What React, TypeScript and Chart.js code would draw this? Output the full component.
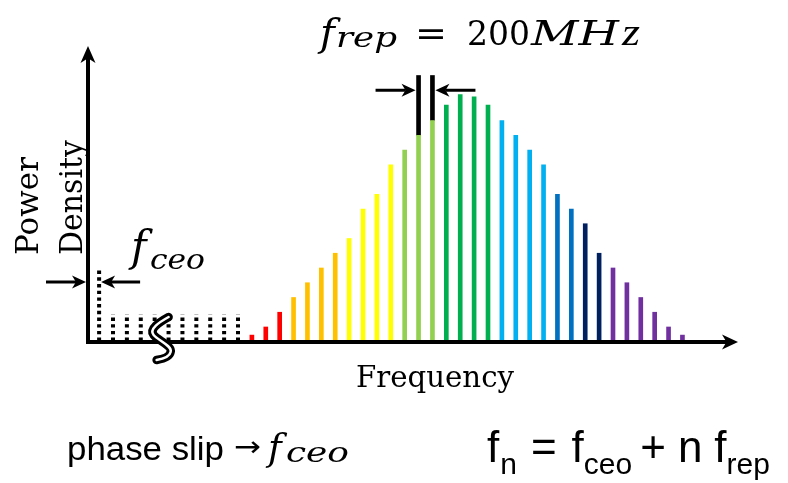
import React, { useEffect, useRef } from "react";
import { Chart, registerables } from "chart.js";

Chart.register(...registerables);

// Comb teeth shown in colour: mode number, power density and colour.
const MODES = [11, 12, 13, 14, 15, 16, 17, 18, 19, 20, 21, 22, 23, 24, 25, 26, 27, 28, 29, 30, 31, 32, 33, 34, 35, 36, 37, 38, 39, 40, 41, 42];
const POWER = [0.4, 0.95, 1.95, 2.95, 3.95, 4.95, 5.95, 6.95, 8.95, 9.95, 11.95, 12.95, 13.95, 14.95, 16.0, 16.7, 16.55, 16.0, 14.95, 13.95, 12.95, 11.95, 9.95, 8.95, 7.95, 5.95, 4.95, 3.95, 2.95, 1.95, 0.95, 0.4];
const COLORS = [
  "#FF0000", "#FF0000", "#FF0000",
  "#FFC000", "#FFC000", "#FFC000", "#FFC000",
  "#FFFF00", "#FFFF00", "#FFFF00", "#FFFF00",
  "#92D050", "#92D050", "#92D050",
  "#00B050", "#00B050", "#00B050", "#00B050",
  "#00B0F0", "#00B0F0", "#00B0F0", "#00B0F0",
  "#0070C0", "#0070C0",
  "#002060", "#002060",
  "#7030A0", "#7030A0", "#7030A0", "#7030A0", "#7030A0", "#7030A0",
];

// Low-frequency teeth behind the axis break, drawn dotted.
const HIDDEN_MODES = [0, 1, 2, 3, 4, 5, 6, 7, 8, 9, 10];
const HIDDEN_POWER = [4.95, 1.83, 1.83, 1.83, 1.83, 1.83, 1.83, 1.83, 1.83, 1.83, 1.83];

// Two neighbouring teeth extended upward to mark the repetition rate.
const REP_MODES = [23, 24];
const REP_TOP = 18;

const X_MIN = -0.8;
const X_MAX = 46;
const Y_MAX = 20;

const SERIF = '"DejaVu Serif", serif';
const TIMES = '"Liberation Serif", serif';
const SANS = '"Liberation Sans", Arial, sans-serif';

function text(ctx: CanvasRenderingContext2D, s: string, x: number, y: number, font: string, width?: number) {
  ctx.save();
  ctx.font = font;
  ctx.textAlign = "left";
  ctx.textBaseline = "alphabetic";
  ctx.fillStyle = "#000";
  const w = ctx.measureText(s).width;
  const sx = width ? width / w : 1;
  ctx.translate(x, y);
  ctx.scale(sx, 1);
  ctx.fillText(s, 0, 0);
  ctx.restore();
  return x + w * sx;
}

function arrow(ctx: CanvasRenderingContext2D, x1: number, y1: number, x2: number, y2: number, lw: number, headLen: number, headW: number) {
  const ang = Math.atan2(y2 - y1, x2 - x1);
  const len = Math.hypot(x2 - x1, y2 - y1);
  ctx.save();
  ctx.translate(x2, y2);
  ctx.rotate(ang);
  ctx.strokeStyle = "#000";
  ctx.fillStyle = "#000";
  if (lw > 0) {
    ctx.lineWidth = lw;
    ctx.lineCap = "butt";
    ctx.beginPath();
    ctx.moveTo(-len, 0);
    ctx.lineTo(-headLen * 0.7, 0);
    ctx.stroke();
  }
  ctx.beginPath();
  ctx.moveTo(0, 0);
  ctx.lineTo(-headLen, -headW / 2);
  ctx.lineTo(-headLen * 0.72, 0);
  ctx.lineTo(-headLen, headW / 2);
  ctx.closePath();
  ctx.fill();
  ctx.restore();
}

const combDecor = {
  id: "combDecor",
  afterDatasetsDraw(chart: any) {
    const ctx: CanvasRenderingContext2D = chart.ctx;
    const xs = chart.scales.x;
    const ys = chart.scales.y;
    const x0 = xs.getPixelForValue(X_MIN);
    const y0 = ys.getPixelForValue(0);

    // axes with arrow heads
    ctx.save();
    ctx.strokeStyle = "#000";
    ctx.lineWidth = 4;
    ctx.beginPath();
    ctx.moveTo(x0 - 2, y0 + 1);
    ctx.lineTo(xs.getPixelForValue(X_MAX) - 10, y0 + 1);
    ctx.stroke();
    ctx.beginPath();
    ctx.moveTo(x0, y0 + 3);
    ctx.lineTo(x0, ys.getPixelForValue(Y_MAX) + 10);
    ctx.stroke();
    ctx.restore();
    arrow(ctx, x0, y0, x0, ys.getPixelForValue(Y_MAX), 0, 17, 15);
    arrow(ctx, x0, y0 + 1, xs.getPixelForValue(X_MAX), y0 + 1, 0, 16, 15);

    // axis break squiggle
    const cx = xs.getPixelForValue(4.5);
    const cy = y0;
    const squiggle = () => {
      ctx.beginPath();
      ctx.moveTo(cx + 7, cy - 24);
      ctx.bezierCurveTo(cx - 2, cy - 19, cx - 13, cy - 12, cx - 8, cy - 6);
      ctx.bezierCurveTo(cx - 4, cy - 1, cx + 11, cy + 5, cx + 9, cy + 11);
      ctx.bezierCurveTo(cx + 8, cy + 16, cx + 1, cy + 18, cx - 5, cy + 19);
    };
    ctx.save();
    ctx.lineCap = "round";
    ctx.lineJoin = "round";
    squiggle();
    ctx.strokeStyle = "#000";
    ctx.lineWidth = 8.5;
    ctx.stroke();
    squiggle();
    ctx.strokeStyle = "#fff";
    ctx.lineWidth = 2.5;
    ctx.stroke();
    ctx.restore();

    // f_rep spacing arrows
    const ra = xs.getPixelForValue(REP_MODES[0]);
    const rb = xs.getPixelForValue(REP_MODES[1]);
    const ry = ys.getPixelForValue(17);
    arrow(ctx, ra - 43, ry, ra - 3, ry, 3, 14, 13);
    arrow(ctx, rb + 43, ry, rb + 3, ry, 3, 14, 13);

    // f_ceo offset arrows
    const fy = ys.getPixelForValue(4);
    const t0 = xs.getPixelForValue(HIDDEN_MODES[0]);
    arrow(ctx, x0 - 42, fy, x0 - 2, fy, 3, 14, 13);
    arrow(ctx, t0 + 41, fy, t0 + 2, fy, 3, 14, 13);

    // repetition-rate label
    text(ctx, "f", 320, 46, `italic 40px ${SERIF}`);
    text(ctx, "rep", 336, 47, `italic 27px ${SERIF}`, 61);
    text(ctx, "=", 415, 45, `34px ${SERIF}`, 32);
    text(ctx, "200", 467, 45, `33px ${SERIF}`, 63);
    text(ctx, "MH", 531, 45, `italic 33px ${SERIF}`, 88);
    text(ctx, "z", 622, 45, `italic 37px ${TIMES}`, 18);

    // offset label
    text(ctx, "f", 131, 261, `italic 42px ${SERIF}`);
    text(ctx, "ceo", 150, 269, `italic 28px ${SERIF}`, 55);

    text(ctx, "Frequency", 356, 387, `30px ${SERIF}`, 158);

    ctx.save();
    ctx.translate(38, 255);
    ctx.rotate(-Math.PI / 2);
    text(ctx, "Power", 0, 0, `31px ${SERIF}`, 98);
    ctx.restore();
    ctx.save();
    ctx.translate(82, 255);
    ctx.rotate(-Math.PI / 2);
    text(ctx, "Density", 0, 0, `31px ${SERIF}`, 115);
    ctx.restore();

    // bottom captions
    text(ctx, "phase slip", 67, 460, `34px ${SANS}`, 157);
    text(ctx, "\u2192", 234, 456, `28px "DejaVu Sans", sans-serif`, 27);
    text(ctx, "f", 268, 460, `italic 37px ${SERIF}`);
    text(ctx, "ceo", 286, 462, `italic 27px ${SERIF}`, 63);

    let x = text(ctx, "f", 487, 462, `44px ${SANS}`);
    x = text(ctx, "n", x + 1, 474, `30px ${SANS}`);
    x = text(ctx, "=", x + 14, 462, `44px ${SANS}`);
    x = text(ctx, "f", x + 15, 462, `44px ${SANS}`);
    x = text(ctx, "ceo", x, 474, `30px ${SANS}`);
    x = text(ctx, "+", x + 8, 462, `44px ${SANS}`);
    x = text(ctx, "n", x + 12, 462, `44px ${SANS}`);
    x = text(ctx, "f", x + 12, 462, `44px ${SANS}`);
    text(ctx, "rep", x, 474, `30px ${SANS}`);
  },
};

export default function App() {
  const ref = useRef<HTMLCanvasElement>(null);

  useEffect(() => {
    if (!ref.current) return;
    const hiddenLine: any[] = [];
    HIDDEN_MODES.forEach((m, i) => {
      hiddenLine.push({ x: m, y: 0 });
      hiddenLine.push({ x: m, y: HIDDEN_POWER[i] });
      hiddenLine.push({ x: m, y: null });
    });
    const chart = new Chart(ref.current, {
      type: "bar",
      data: {
        datasets: [
          {
            type: "line",
            data: hiddenLine,
            borderColor: "#000",
            borderWidth: 4,
            borderDash: [3.4, 3.3],
            borderCapStyle: "butt",
            pointRadius: 0,
            spanGaps: false,
            tension: 0,
          } as any,
          {
            data: MODES.map((m, i) => ({ x: m, y: POWER[i] })),
            backgroundColor: COLORS,
            barThickness: 4,
            grouped: false,
            borderWidth: 0,
          } as any,
          {
            data: REP_MODES.map((m) => ({ x: m, y: [POWER[MODES.indexOf(m)], REP_TOP] })),
            backgroundColor: "#000",
            barThickness: 4,
            grouped: false,
            borderWidth: 0,
          } as any,
        ],
      },
      options: {
        animation: false,
        responsive: false,
        layout: { padding: { left: 88, right: 50, top: 46, bottom: 142 } },
        plugins: { legend: { display: false }, tooltip: { enabled: false } },
        scales: {
          x: { type: "linear", min: X_MIN, max: X_MAX, offset: false, display: false },
          y: { type: "linear", min: 0, max: Y_MAX, display: false },
        },
      },
      plugins: [combDecor],
    });
    return () => chart.destroy();
  }, []);

  return (
    <div style={{ position: "fixed", left: 0, top: 0, width: 788, height: 483, background: "#fff" }}>
      <canvas ref={ref} width={788} height={483} style={{ display: "block" }} />
    </div>
  );
}
